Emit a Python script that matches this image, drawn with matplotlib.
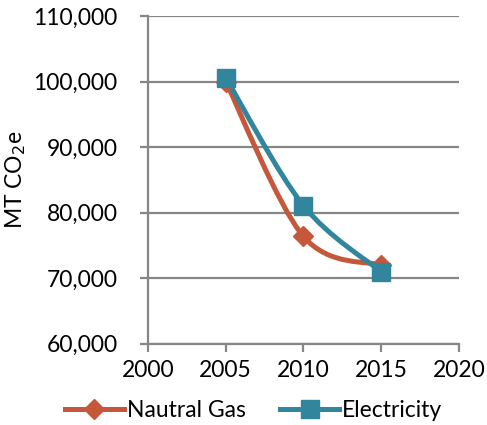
import matplotlib.pyplot as plt
import numpy as np
from matplotlib.path import Path
from matplotlib.patches import PathPatch
from matplotlib.lines import Line2D

years = [2005, 2010, 2015]
natural_gas = [100000, 76400, 72000]
electricity = [100600, 81100, 71000]

GAS_COLOR = "#C5573A"
ELEC_COLOR = "#31859C"
GRID_COLOR = "#868686"
FS = 16.5

plt.rcParams["font.family"] = ["Lato", "DejaVu Sans"]


def smooth_path(xs, ys):
    """Excel style smoothed line as cubic bezier segments"""
    pts = np.column_stack([xs, ys]).astype(float)
    padded = np.vstack([pts[:1], pts, pts[-1:]])
    verts = [tuple(pts[0])]
    codes = [Path.MOVETO]
    for i in range(len(pts) - 1):
        p0, p1, p2, p3 = padded[i], padded[i + 1], padded[i + 2], padded[i + 3]
        c1 = p1 + (p2 - p0) / 6.0
        c2 = p2 - (p3 - p1) / 6.0
        verts += [tuple(c1), tuple(c2), tuple(p2)]
        codes += [Path.CURVE4] * 3
    return Path(verts, codes)


fig = plt.figure(figsize=(4.87, 4.25), dpi=100)
ax = fig.add_axes([0.304, 0.191, 0.638, 0.771])

for ys, color, marker, ms in [(natural_gas, GAS_COLOR, "D", 10),
                              (electricity, ELEC_COLOR, "s", 13)]:
    patch = PathPatch(smooth_path(years, ys), facecolor="none", edgecolor=color,
                      lw=3.6, capstyle="round", zorder=3)
    ax.add_patch(patch)
    ax.plot(years, ys, ls="none", marker=marker, ms=ms, color=color, zorder=4)

ax.set_xlim(2000, 2020)
ax.set_ylim(60000, 110000)
ax.set_xticks(np.arange(2000, 2021, 5))
ax.set_yticks(np.arange(60000, 110001, 10000))
ax.yaxis.set_major_formatter(plt.FuncFormatter(lambda v, p: "{:,.0f}".format(v)))
ax.grid(axis="y", color=GRID_COLOR, lw=1.6)
ax.set_axisbelow(True)

for side in ["top", "right", "bottom"]:
    ax.spines[side].set_visible(False)
ax.spines["left"].set_color(GRID_COLOR)
ax.spines["left"].set_linewidth(1.6)
ax.tick_params(axis="both", colors=GRID_COLOR, width=1.6, length=6,
               labelcolor="black", labelsize=FS)
ax.tick_params(axis="y", pad=16)
ax.tick_params(axis="x", pad=6)
# bottom axis line is the 60,000 gridline
ax.axhline(60000, color=GRID_COLOR, lw=1.6, clip_on=False)

ax.set_ylabel("MT CO$_2$e", fontsize=FS)
ax.yaxis.set_label_coords(-0.386, 0.5)

handles = [Line2D([], [], color=GAS_COLOR, lw=3.6, marker="D", ms=10),
           Line2D([], [], color=ELEC_COLOR, lw=3.6, marker="s", ms=13)]
fig.legend(handles, ["Nautral Gas", "Electricity"], loc="center",
           bbox_to_anchor=(0.52, 0.033), ncol=2, frameon=False,
           fontsize=FS, handlelength=2.6, handletextpad=0.1, columnspacing=1.5)

fig.savefig("out.png", dpi=100)
